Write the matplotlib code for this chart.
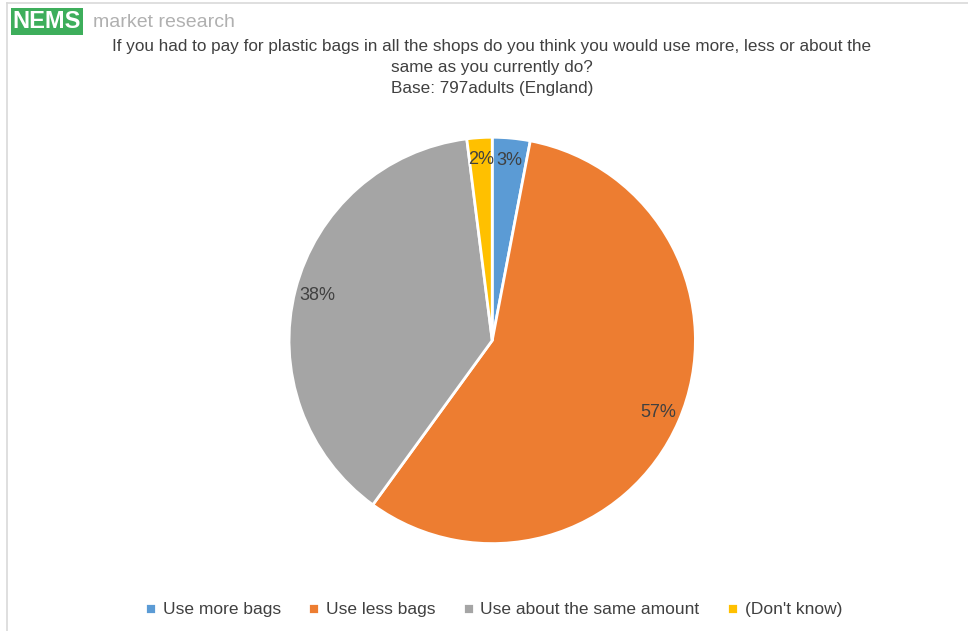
import matplotlib.pyplot as plt
from matplotlib.lines import Line2D

plt.rcParams['font.family'] = ['Liberation Sans Narrow', 'DejaVu Sans Condensed', 'Liberation Sans', 'DejaVu Sans']

labels = ['Use more bags', 'Use less bags', 'Use about the same amount', "(Don't know)"]
values = [3, 57, 38, 2]
colors = ['#5B9BD5', '#ED7D31', '#A5A5A5', '#FFC000']

fig = plt.figure(figsize=(9.68, 6.31), dpi=100)

# chart area edge (top and left only)
fig.lines.append(Line2D([0.0075, 1.0], [0.995, 0.995], transform=fig.transFigure,
                        color='#D9D9D9', linewidth=1.2))
fig.lines.append(Line2D([0.0075, 0.0075], [0.0, 0.995], transform=fig.transFigure,
                        color='#D9D9D9', linewidth=1.2))

# logo
fig.text(0.013, 0.966, 'NEMS', color='white', fontsize=17, fontweight='bold',
         family=['Liberation Sans', 'DejaVu Sans'], va='center',
         bbox=dict(boxstyle='square,pad=0.08', facecolor='#3DAE5B', edgecolor='none'))
fig.text(0.096, 0.964, 'market research', color='#B0B0B0', fontsize=14,
         family=['Liberation Sans', 'DejaVu Sans'], va='center')

fig.text(0.508, 0.938, 'If you had to pay for plastic bags in all the shops do you think you would use more, less or about the\n'
         'same as you currently do?\nBase: 797adults (England)',
         ha='center', va='top', fontsize=12.3, color='#404040', linespacing=1.5)

ax = fig.add_axes([0.246, 0.058, 0.525, 0.805])
wedges, texts, autotexts = ax.pie(values, colors=colors, startangle=90, counterclock=False,
                                  autopct='%d%%', pctdistance=0.89,
                                  wedgeprops=dict(edgecolor='white', linewidth=2))
for t in autotexts:
    t.set_color('#404040')
    t.set_fontsize(13)
ax.set_aspect('equal')

fig.legend(wedges, labels, loc='lower center', bbox_to_anchor=(0.51, -0.003), ncol=4,
           frameon=False, fontsize=12.5, handlelength=0.6, handleheight=0.6,
           columnspacing=1.6, handletextpad=0.4, labelcolor='#404040')

fig.savefig('out.png', dpi=100)
